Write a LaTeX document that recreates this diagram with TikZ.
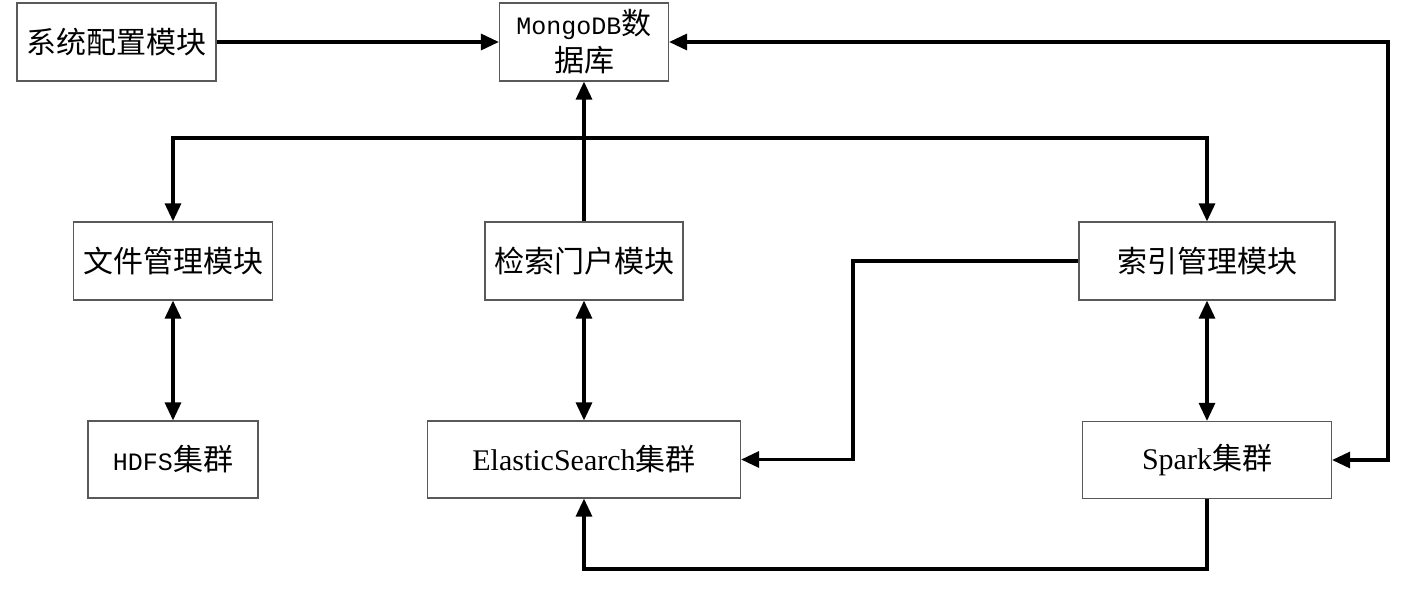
\documentclass[tikz,border=0pt]{standalone}
\usepackage{fontspec}
\setmainfont{Liberation Serif}
\newfontfamily\cjk{Noto Sans CJK SC}
\newfontfamily\latmono{Liberation Mono}
\usetikzlibrary{arrows.meta}

\begin{document}
\begin{tikzpicture}[x=1pt,y=-1pt,
    caja/.style={draw=black!65,line width=1.2pt,inner sep=0pt,align=center,
        font=\fontsize{30}{37}\selectfont},
    punta/.tip={Triangle[length=18pt,width=16pt]},
    flecha/.style={line width=3.2pt,-punta},
    doble/.style={line width=3.2pt,punta-punta}]
\def\sepbus{138};%Altura de la linea comun
\def\sepabajo{569};%Altura de la linea inferior
\def\xderecha{1388};%Linea de retorno derecha
\def\xmedio{853};%Linea indice - ES
\useasboundingbox (0,0) rectangle (1409,594);

%Cajas fila superior
\node[caja,minimum width=199pt,minimum height=78pt] (sistema) at (116.5,42) {\cjk 系统配置模块};
\node[caja,minimum width=169pt,minimum height=78pt] (mongo) at (584,42)
    {{\latmono\fontsize{25}{37}\selectfont MongoDB}{\cjk 数}\\{\cjk 据库}};

%Cajas fila media
\node[caja,minimum width=199pt,minimum height=78pt] (archivos) at (173,261) {\cjk 文件管理模块};
\node[caja,minimum width=198pt,minimum height=78pt] (portal) at (584,261) {\cjk 检索门户模块};
\node[caja,minimum width=256pt,minimum height=78pt] (indice) at (1207,261) {\cjk 索引管理模块};

%Cajas fila inferior
\node[caja,minimum width=170pt,minimum height=77pt] (hdfs) at (173,459.5)
    {{\latmono\fontsize{25}{37}\selectfont HDFS}{\cjk 集群}};
\node[caja,minimum width=313pt,minimum height=77pt] (es) at (584,459.5) {ElasticSearch{\cjk 集群}};
\node[caja,minimum width=249pt,minimum height=77pt] (spark) at (1207,460) {Spark{\cjk 集群}};

%Conexiones
\coordinate (bus) at (584,\sepbus);
\draw[flecha] (sistema) -- (mongo);
\draw[flecha] (portal) -- (mongo);
\draw[flecha] (bus) -| (archivos.north);
\draw[flecha] (bus) -| (indice.north);
\draw[doble] (mongo.east) -- (\xderecha,42) |- (spark.east);
\draw[doble] (archivos) -- (hdfs);
\draw[doble] (portal) -- (es);
\draw[doble] (indice) -- (spark);
\draw[flecha] (indice.west) -- (\xmedio,261) |- (es.east);
\draw[flecha] (spark.south) -- (1207,\sepabajo) -| (es.south);
\end{tikzpicture}
\end{document}
